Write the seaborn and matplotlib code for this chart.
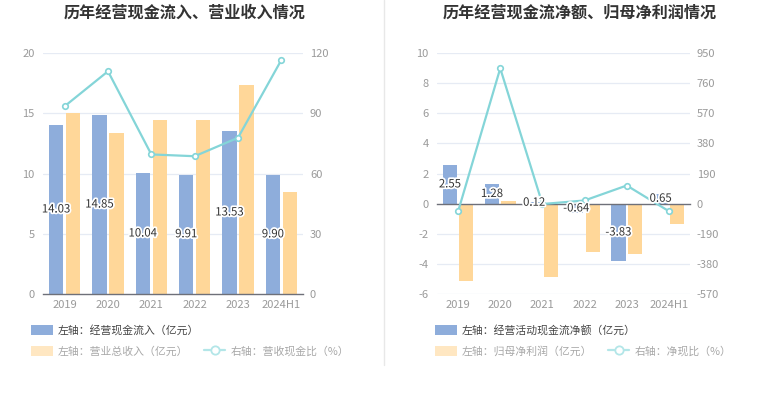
import numpy as np
import pandas as pd
import matplotlib
matplotlib.use('Agg')
import matplotlib.pyplot as plt
import matplotlib.patheffects as pe
from matplotlib.patches import Patch
from matplotlib.lines import Line2D
import seaborn as sns

# 数据
years = ['2019', '2020', '2021', '2022', '2023', '2024H1']
cash_inflow = [14.03, 14.85, 10.04, 9.91, 13.53, 9.90]
revenue = [15.00, 13.38, 14.45, 14.45, 17.38, 8.50]
inflow_ratio = [93.5, 110.9, 69.5, 68.6, 77.8, 116.5]

net_cash = [2.55, 1.28, 0.12, -0.64, -3.83, 0.65]
net_profit = [-5.14, 0.15, -4.87, -3.21, -3.35, -1.36]
cash_profit_ratio = [-49.6, 853.3, -2.5, 19.9, 114.3, -47.8]

left_ticks_1 = [0, 5, 10, 15, 20]
right_ticks_1 = [0, 30, 60, 90, 120]
left_ticks_2 = [-6, -4, -2, 0, 2, 4, 6, 8, 10]
right_ticks_2 = [-570, -380, -190, 0, 190, 380, 570, 760, 950]

BLUE = '#8eaddb'
ORANGE = '#ffd799'
TEAL = '#84d5d8'
GRID = '#e6ebf4'
AXIS = '#6e7079'
TICK_TXT = '#9a9a9a'

sns.set_style('white')
plt.rcParams['font.family'] = ['Noto Sans CJK SC', 'DejaVu Sans']
plt.rcParams['axes.unicode_minus'] = False

W, H = 765, 393
fig = plt.figure(figsize=(W / 100, H / 100), dpi=100)


def px(x0, y0, w, h):
    return [x0 / W, 1 - (y0 + h) / H, w / W, h / H]


def draw_panel(rect, bar_a, bar_b, ratio, names, lticks, rticks, title, title_x, leg_x):
    ax = fig.add_axes(rect)
    df = pd.DataFrame({
        'year': years * 2,
        'value': bar_a + bar_b,
        'series': [names[0]] * len(years) + [names[1]] * len(years),
    })
    sns.barplot(data=df, x='year', y='value', hue='series', palette=[BLUE, ORANGE],
                saturation=1, width=0.78, gap=0.14, legend=False, ax=ax, linewidth=0)
    ax.set_ylim(lticks[0], lticks[-1])
    ax.set_yticks(lticks)
    ax.set_xlim(-0.5, len(years) - 0.5)
    ax.set_xlabel('')
    ax.set_ylabel('')
    for s in ['left', 'right', 'top']:
        ax.spines[s].set_visible(False)
    ax.spines['bottom'].set_color(AXIS)
    ax.spines['bottom'].set_linewidth(1)
    ax.spines['bottom'].set_position(('data', 0))
    for t in lticks:
        if t != 0:
            ax.axhline(t, color=GRID, linewidth=0.9, zorder=0)
    ax.tick_params(axis='y', length=0, pad=6, labelsize=8, labelcolor=TICK_TXT)
    ax.tick_params(axis='x', length=3.5, width=1, color=AXIS, direction='out',
                   labelbottom=False)
    xt = ax.get_xaxis_transform()
    for i, y in enumerate(years):
        ax.text(i, -11 / 241, y, transform=xt, ha='center', va='center',
                fontsize=8, color=TICK_TXT)

    ax2 = ax.twinx()
    sns.lineplot(x=np.arange(len(years)), y=ratio, ax=ax2, color=TEAL, linewidth=1.6,
                 marker='o', markersize=4, markerfacecolor='white',
                 markeredgecolor=TEAL, markeredgewidth=1.2)
    ax2.set_ylim(rticks[0], rticks[-1])
    ax2.set_yticks(rticks)
    ax2.set_xlim(-0.5, len(years) - 0.5)
    ax2.set_ylabel('')
    for s in ax2.spines.values():
        s.set_visible(False)
    ax2.tick_params(axis='y', length=0, pad=5, labelsize=8, labelcolor=TICK_TXT)
    ax2.tick_params(axis='x', length=0, labelbottom=False)

    # 数据标签（取蓝色柱的中心）
    for bar, v in zip(ax.containers[0], bar_a):
        cx = bar.get_x() + bar.get_width() / 2
        ax2.text(cx, v / 2, f'{v:.2f}', transform=ax.transData, ha='center',
                 va='center', fontsize=8.2, color='#333333',
                 path_effects=[pe.withStroke(linewidth=2.5, foreground='white')])

    fig.text(title_x / W, 1 - 13 / H, title, ha='center', va='center',
             fontsize=11.6, fontweight='bold', color='#333333')

    h1 = [Patch(facecolor=BLUE, edgecolor='none')]
    l1 = fig.legend(handles=h1, labels=[names[0]], loc='center left',
                    bbox_to_anchor=(leg_x / W, 1 - 330 / H), frameon=False,
                    fontsize=7.8, handlelength=2.0, handleheight=1.1,
                    handletextpad=0.5, borderpad=0, borderaxespad=0)
    for t in l1.get_texts():
        t.set_color('#444444')
    h2 = [Patch(facecolor='#ffe7c2', edgecolor='none'),
          Line2D([], [], color='#b3e6e8', linewidth=1.6, marker='o', markersize=6,
                 markerfacecolor='white', markeredgecolor='#b3e6e8', markeredgewidth=1.3)]
    l2 = fig.legend(handles=h2, labels=[names[2], names[3]], loc='center left',
                    bbox_to_anchor=(leg_x / W, 1 - 351 / H), frameon=False, ncol=2,
                    fontsize=7.8, handlelength=2.0, handleheight=1.1,
                    handletextpad=0.5, columnspacing=1.4, borderpad=0, borderaxespad=0)
    for t in l2.get_texts():
        t.set_color('#a8a8a8')
    return ax, ax2


draw_panel(px(43, 53, 260, 241), cash_inflow, revenue, inflow_ratio,
           ['左轴：经营现金流入（亿元）', '营业总收入',
            '左轴：营业总收入（亿元）', '右轴：营收现金比（%）'],
           left_ticks_1, right_ticks_1, '历年经营现金流入、营业收入情况', 185, 31)

draw_panel(px(437, 53, 253, 241), net_cash, net_profit, cash_profit_ratio,
           ['左轴：经营活动现金流净额（亿元）', '归母净利润',
            '左轴：归母净利润（亿元）', '右轴：净现比（%）'],
           left_ticks_2, right_ticks_2, '历年经营现金流净额、归母净利润情况', 580, 435)

# 中间的分隔线
fig.add_artist(Line2D([384 / W, 384 / W], [1, 1 - 365 / H], color='#e8e8e8',
                      linewidth=1, transform=fig.transFigure))

fig.savefig('out.png', dpi=100)
